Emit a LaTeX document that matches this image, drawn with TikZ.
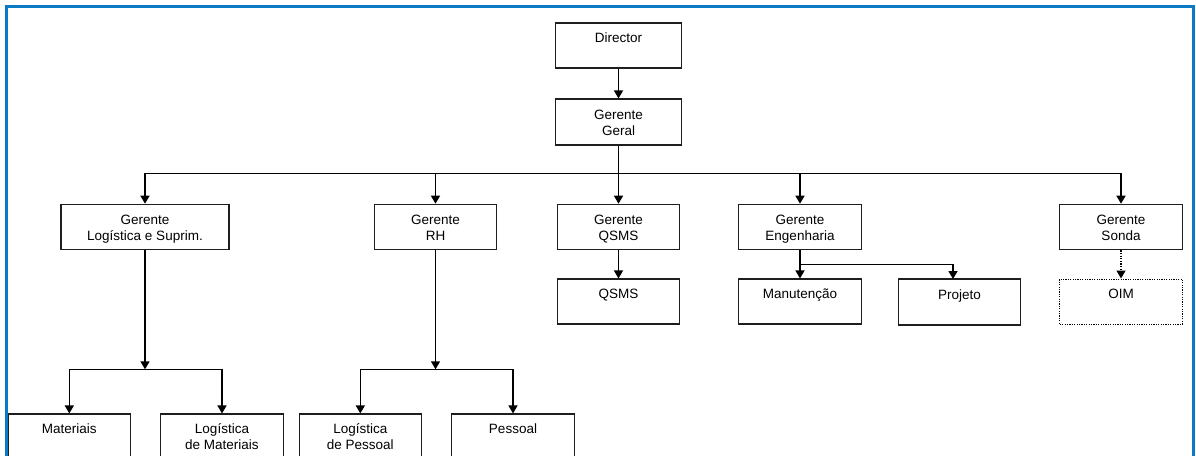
\documentclass[tikz,border=0pt]{standalone}
\usepackage{fontspec}
\setmainfont{Liberation Sans}
\usetikzlibrary{arrows.meta,calc}
\definecolor{frameblue}{RGB}{11,122,196}
\definecolor{boxline}{RGB}{30,30,30}
\newcommand{\mystrut}{\rule[-3pt]{0pt}{16pt}}
\tikzset{
  orgbox/.style={draw=boxline, line width=1.1pt, fill=white, align=center, inner sep=0pt,
    font=\fontsize{13.5}{16}\selectfont, text=black},
  conn/.style={line width=1.4pt, draw=black},
  arr/.style={conn, -{Triangle[length=8pt,width=9pt]}},
  dotconn/.style={line width=1.3pt, dash pattern=on 1.3pt off 1.3pt, -{Triangle[length=8pt,width=9pt]}},
}
\begin{document}
\begin{tikzpicture}[x=1pt,y=-1pt]
\useasboundingbox (0,0) rectangle (1196,455);
\clip (0,0) rectangle (1196,455);
\fill[white] (0,0) rectangle (1196,455);
\draw[frameblue, line width=3pt] (6.5,480) -- (6.5,6.5) -- (1193.5,6.5) -- (1193.5,480);

% level 0/1
\node[orgbox, minimum width=126pt, minimum height=45pt] (dir) at (618.5,45.5) {\mystrut Director\\\mystrut};
\node[orgbox, minimum width=126pt, minimum height=46pt] (gg) at (618.5,122) {\mystrut Gerente\\\mystrut Geral};

% level 2
\node[orgbox, minimum width=168pt, minimum height=45.5pt] (glog) at (145,227) {\mystrut Gerente\\\mystrut Logística e Suprim.};
\node[orgbox, minimum width=122.5pt, minimum height=45.5pt] (grh) at (435.5,227) {\mystrut Gerente\\\mystrut RH};
\node[orgbox, minimum width=122pt, minimum height=45.5pt] (gqsms) at (618.5,227) {\mystrut Gerente\\\mystrut QSMS};
\node[orgbox, minimum width=122.5pt, minimum height=45.5pt] (geng) at (800,227) {\mystrut Gerente\\\mystrut Engenharia};
\node[orgbox, minimum width=122.5pt, minimum height=45.5pt] (gsonda) at (1121,227) {\mystrut Gerente\\\mystrut Sonda};

% level 3
\node[orgbox, minimum width=122pt, minimum height=45pt] (qsms) at (618.5,301.5) {\mystrut QSMS\\\mystrut};
\node[orgbox, minimum width=122.5pt, minimum height=45pt] (manut) at (800,301.5) {\mystrut Manutenção\\\mystrut};
\node[orgbox, minimum width=122.5pt, minimum height=46pt] (proj) at (959.5,302) {\mystrut Projeto\\\mystrut};
\node[orgbox, draw=black, line width=1pt, dash pattern=on 1.2pt off 1.2pt, minimum width=122.5pt, minimum height=45pt] (oim) at (1121,301.5) {\mystrut OIM\\\mystrut};

% level 4
\node[orgbox, minimum width=122pt, minimum height=45pt] (mat) at (69.3,436.5) {\mystrut Materiais\\\mystrut};
\node[orgbox, minimum width=122.5pt, minimum height=45pt] (logmat) at (222,436.5) {\mystrut Logística\\\mystrut de Materiais};
\node[orgbox, minimum width=122pt, minimum height=45pt] (logpess) at (360.3,436.5) {\mystrut Logística\\\mystrut de Pessoal};
\node[orgbox, minimum width=122.5pt, minimum height=45pt] (pess) at (513,436.5) {\mystrut Pessoal\\\mystrut};

% junction coordinates
\coordinate (bus) at (618.5,173.3);
\coordinate (logj) at (145,369.3);
\coordinate (rhj) at (435.5,369.3);
\coordinate (engj) at (800,264.3);
\coordinate (projtop) at (953,279);

% connectors
\draw[arr] (dir) -- (gg);
\draw[conn] (gg) -- (bus);
\draw[arr] (bus) -| (glog.north);
\draw[arr] (bus) -| (grh.north);
\draw[arr] (bus) -- (gqsms);
\draw[arr] (bus) -| (geng.north);
\draw[arr] (bus) -| (gsonda.north);

\draw[arr] (gqsms) -- (qsms);
\draw[arr] (geng) -- (manut);
\draw[arr] (engj) -| (projtop);
\draw[dotconn] (gsonda) -- (oim);

\draw[arr] (glog) -- (logj);
\draw[arr] (logj) -| (mat.north);
\draw[arr] (logj) -| (logmat.north);

\draw[arr] (grh) -- (rhj);
\draw[arr] (rhj) -| (logpess.north);
\draw[arr] (rhj) -| (pess.north);
\end{tikzpicture}
\end{document}
